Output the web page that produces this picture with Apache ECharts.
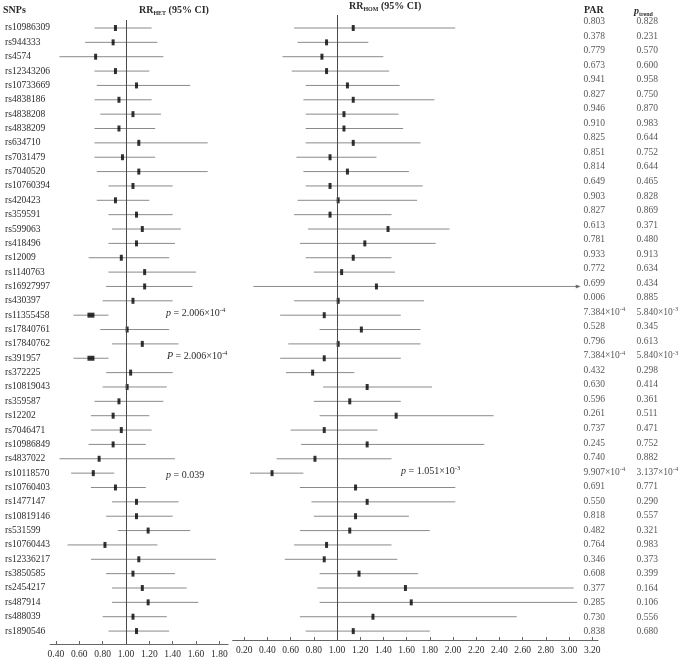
<!DOCTYPE html>
<html>
<head>
<meta charset="utf-8">
<script src="https://cdn.jsdelivr.net/npm/echarts@6/dist/echarts.min.js"></script>
<style>html,body{margin:0;padding:0;background:#fff}#c{width:683px;height:660px}</style>
</head>
<body>
<div id="c"></div>
<script>
const snps = ['rs10986309','rs944333','rs4574','rs12343206','rs10733669','rs4838186','rs4838208','rs4838209','rs634710','rs7031479','rs7040520','rs10760394','rs420423','rs359591','rs599063','rs418496','rs12009','rs1140763','rs16927997','rs430397','rs11355458','rs17840761','rs17840762','rs391957','rs372225','rs10819043','rs359587','rs12202','rs7046471','rs10986849','rs4837022','rs10118570','rs10760403','rs1477147','rs10819146','rs531599','rs10760443','rs12336217','rs3850585','rs2454217','rs487914','rs488039','rs1890546'];

const hetRR = [0.91,0.89,0.74,0.91,1.09,0.94,1.06,0.94,1.11,0.97,1.11,1.06,0.91,1.09,1.14,1.09,0.96,1.16,1.16,1.06,0.70,1.01,1.14,0.70,1.04,1.01,0.94,0.89,0.96,0.89,0.77,0.72,0.91,1.09,1.09,1.19,0.82,1.11,1.06,1.14,1.19,1.06,1.09];
const hetLo = [0.73,0.65,0.43,0.73,0.75,0.73,0.78,0.73,0.73,0.73,0.75,0.85,0.75,0.85,0.88,0.85,0.68,0.85,0.83,0.80,0.55,0.78,0.88,0.55,0.83,0.80,0.73,0.70,0.70,0.68,0.43,0.53,0.70,0.88,0.83,0.93,0.50,0.70,0.83,0.88,0.88,0.80,0.85];
const hetHi = [1.22,1.27,1.32,1.20,1.55,1.22,1.30,1.25,1.70,1.25,1.70,1.40,1.20,1.40,1.47,1.42,1.37,1.60,1.57,1.40,0.85,1.37,1.45,0.85,1.40,1.35,1.32,1.20,1.22,1.17,1.42,0.90,1.17,1.45,1.40,1.55,1.27,1.77,1.42,1.52,1.62,1.35,1.37];

const homRR = [1.14,0.91,0.87,0.91,1.09,1.14,1.06,1.06,1.14,0.94,1.09,0.94,1.01,0.94,1.44,1.24,1.14,1.04,1.34,1.01,0.89,1.21,1.01,0.89,0.79,1.26,1.11,1.51,0.89,1.26,0.81,0.44,1.16,1.26,1.16,1.11,0.91,0.89,1.19,1.59,1.64,1.31,1.14];
const homLo = [0.63,0.66,0.53,0.61,0.73,0.71,0.73,0.73,0.73,0.65,0.71,0.73,0.66,0.63,0.75,0.68,0.73,0.80,0.28,0.63,0.51,0.85,0.58,0.51,0.56,0.88,0.80,0.85,0.60,0.69,0.48,0.25,0.68,0.78,0.80,0.68,0.63,0.55,0.85,0.83,0.85,0.68,0.73];
const homHi = [2.02,1.27,1.40,1.45,1.54,1.84,1.53,1.57,1.72,1.34,1.62,1.74,1.69,1.47,1.97,1.85,1.47,1.50,3.08,1.75,1.55,1.72,1.72,1.55,1.15,1.82,1.55,2.35,1.35,2.27,1.47,0.71,2.02,2.02,1.62,1.80,1.47,1.52,1.70,3.04,3.07,2.55,1.80];

const par = ['0.803','0.378','0.779','0.673','0.941','0.827','0.946','0.910','0.825','0.851','0.814','0.649','0.903','0.827','0.613','0.781','0.933','0.772','0.699','0.006','7.384×10^-4','0.528','0.796','7.384×10^-4','0.432','0.630','0.596','0.261','0.737','0.245','0.740','9.907×10^-4','0.691','0.550','0.818','0.482','0.764','0.346','0.608','0.377','0.285','0.730','0.838'];
const ptrend = ['0.828','0.231','0.570','0.600','0.958','0.750','0.870','0.983','0.644','0.752','0.644','0.465','0.828','0.869','0.371','0.480','0.913','0.634','0.434','0.885','5.840×10^-3','0.345','0.613','5.840×10^-3','0.298','0.414','0.361','0.511','0.471','0.752','0.882','3.137×10^-4','0.771','0.290','0.557','0.321','0.983','0.373','0.399','0.164','0.106','0.556','0.680'];

const hetTicks = [0.40,0.60,0.80,1.00,1.20,1.40,1.60,1.80];
const homTicks = [0.20,0.40,0.60,0.80,1.00,1.20,1.40,1.60,1.80,2.00,2.20,2.40,2.60,2.80,3.00,3.20];

const hetBigRows = [20, 23];
const homArrowRows = [18];

const FONT = '"Liberation Serif", "Times New Roman", serif';
const TXT = '#2a2a2a';
const rows = snps.map((s, i) => i);

function sci(s) {
  const m = s.match(/^(.*)\^(.*)$/);
  return m ? '{t|' + m[1] + '}{sup|' + m[2] + '}' : '{t|' + s + '}';
}
const richTxt = {
  t: {fontSize: 9.5, fontFamily: FONT, color: TXT, lineHeight: 12},
  sup: {fontSize: 6.5, fontFamily: FONT, color: TXT, lineHeight: 6, verticalAlign: 'top'}
};

function ciRender(params, api) {
  const a = api.coord([api.value(0), api.value(2)]);
  const b = api.coord([api.value(1), api.value(2)]);
  return {type: 'line', shape: {x1: a[0], y1: a[1], x2: b[0], y2: b[1]},
          style: {stroke: '#8a8a8a', lineWidth: 1}};
}

function xAxisCfg(grid, min, max, ticks) {
  return {
    gridIndex: grid, type: 'value', min: min, max: max, position: 'bottom',
    splitLine: {show: false},
    axisLine: {show: true, onZero: false, lineStyle: {color: '#666', width: 1}},
    axisTick: {show: true, customValues: ticks, length: 3, inside: true, lineStyle: {color: '#666'}},
    axisLabel: {show: true, customValues: ticks, formatter: v => v.toFixed(2),
                fontFamily: FONT, fontSize: 9.5, color: TXT, margin: 5}
  };
}

const refLine = {
  silent: true, symbol: 'none', label: {show: false},
  lineStyle: {color: '#4a4a4a', width: 1, type: 'solid'},
  data: [{xAxis: 1}]
};

const option = {
  animation: false,
  backgroundColor: '#fff',
  grid: [
    {left: 50.1, top: 20, width: 178, height: 624, outerBoundsMode: 'none', containLabel: false},
    {left: 232.6, top: 15, width: 365.4, height: 625, outerBoundsMode: 'none', containLabel: false},
    {left: 583, top: 7.17, width: 53, height: 639.3, outerBoundsMode: 'none', containLabel: false}
  ],
  xAxis: [
    xAxisCfg(0, 0.35, 1.875, hetTicks),
    xAxisCfg(1, 0.10, 3.25, homTicks),
    {gridIndex: 2, type: 'value', min: 0, max: 1, show: false}
  ],
  yAxis: [
    {gridIndex: 0, type: 'value', inverse: true, min: -0.557, max: 42.9,
     splitLine: {show: false}, axisLine: {show: false}, axisTick: {show: false},
     axisLabel: {show: true, customValues: rows, formatter: v => snps[v], align: 'left',
                 margin: 45, fontFamily: FONT, fontSize: 9.5, color: TXT}},
    {gridIndex: 1, type: 'value', inverse: true, min: -0.905, max: 42.62, show: false},
    {gridIndex: 2, type: 'value', inverse: true, min: -1, max: 43, show: false}
  ],
  series: [
    {type: 'custom', xAxisIndex: 0, yAxisIndex: 0, silent: true, z: 1,
     data: hetLo.map((lo, i) => [lo, hetHi[i], i]), encode: {x: [0, 1], y: 2},
     renderItem: ciRender},
    {type: 'scatter', xAxisIndex: 0, yAxisIndex: 0, silent: true, z: 3,
     symbol: 'rect',
     symbolSize: (v, p) => hetBigRows.includes(p.dataIndex) ? [7, 5] : [3, 6],
     itemStyle: {color: '#000'},
     data: hetRR.map((v, i) => [v, i]),
     markLine: refLine},
    {type: 'custom', xAxisIndex: 1, yAxisIndex: 1, silent: true, z: 1,
     data: homLo.map((lo, i) => [lo, homHi[i], i]), encode: {x: [0, 1], y: 2},
     renderItem: ciRender},
    {type: 'scatter', xAxisIndex: 1, yAxisIndex: 1, silent: true, z: 3,
     symbol: 'rect', symbolSize: [3, 6], itemStyle: {color: '#000'},
     data: homRR.map((v, i) => [v, i]),
     markLine: refLine},
    {type: 'scatter', xAxisIndex: 1, yAxisIndex: 1, silent: true, z: 3,
     symbol: 'triangle', symbolSize: [4, 5], symbolRotate: -90, itemStyle: {color: '#555'},
     data: homArrowRows.map(i => [homHi[i], i])},
    {type: 'scatter', xAxisIndex: 2, yAxisIndex: 2, silent: true,
     symbolSize: 1, itemStyle: {color: 'rgba(0,0,0,0)'},
     data: par.map((s, i) => [0, i]),
     label: {show: true, position: 'right', distance: 0, formatter: p => sci(par[p.dataIndex]), rich: richTxt}},
    {type: 'scatter', xAxisIndex: 2, yAxisIndex: 2, silent: true,
     symbolSize: 1, itemStyle: {color: 'rgba(0,0,0,0)'},
     data: ptrend.map((s, i) => [1, i]),
     label: {show: true, position: 'right', distance: 0, formatter: p => sci(ptrend[p.dataIndex]), rich: richTxt}}
  ],
  graphic: [
    {type: 'text', x: 3, y: 10.5, style: {text: 'SNPs', font: 'bold 10px ' + FONT, fill: TXT, verticalAlign: 'middle'}},
    {type: 'text', x: 139, y: 10, style: {
      text: '{b|RR}{s|HET}{b| (95% CI)}', verticalAlign: 'middle',
      rich: {b: {fontSize: 10, fontWeight: 'bold', fontFamily: FONT, fill: TXT, lineHeight: 12},
             s: {fontSize: 6, fontWeight: 'bold', fontFamily: FONT, fill: TXT, lineHeight: 6, verticalAlign: 'bottom'}}}},
    {type: 'text', x: 349, y: 6, style: {
      text: '{b|RR}{s|HOM}{b| (95% CI)}', verticalAlign: 'middle',
      rich: {b: {fontSize: 10, fontWeight: 'bold', fontFamily: FONT, fill: TXT, lineHeight: 12},
             s: {fontSize: 6, fontWeight: 'bold', fontFamily: FONT, fill: TXT, lineHeight: 6, verticalAlign: 'bottom'}}}},
    {type: 'text', x: 584, y: 10, style: {text: 'PAR', font: 'bold 10px ' + FONT, fill: TXT, verticalAlign: 'middle'}},
    {type: 'text', x: 634, y: 11, style: {
      text: '{i|p}{s|trend}', verticalAlign: 'middle',
      rich: {i: {fontSize: 10, fontStyle: 'italic', fontWeight: 'bold', fontFamily: FONT, fill: TXT, lineHeight: 12},
             s: {fontSize: 6, fontFamily: FONT, fontWeight: 'bold', fill: TXT, lineHeight: 6, verticalAlign: 'bottom'}}}},
    {type: 'text', x: 166, y: 313, style: {
      text: '{i|p}{t| = 2.006×10}{u|-4}', verticalAlign: 'middle',
      rich: {i: {fontSize: 10, fontStyle: 'italic', fontFamily: FONT, fill: TXT, lineHeight: 12},
             t: {fontSize: 10, fontFamily: FONT, fill: TXT, lineHeight: 12},
             u: {fontSize: 6.5, fontFamily: FONT, fill: TXT, lineHeight: 6, verticalAlign: 'top'}}}},
    {type: 'text', x: 167, y: 356, style: {
      text: '{i|P}{t| = 2.006×10}{u|-4}', verticalAlign: 'middle',
      rich: {i: {fontSize: 10, fontStyle: 'italic', fontFamily: FONT, fill: TXT, lineHeight: 12},
             t: {fontSize: 10, fontFamily: FONT, fill: TXT, lineHeight: 12},
             u: {fontSize: 6.5, fontFamily: FONT, fill: TXT, lineHeight: 6, verticalAlign: 'top'}}}},
    {type: 'text', x: 166, y: 475, style: {
      text: '{i|p}{t| = 0.039}', verticalAlign: 'middle',
      rich: {i: {fontSize: 10, fontStyle: 'italic', fontFamily: FONT, fill: TXT, lineHeight: 12},
             t: {fontSize: 10, fontFamily: FONT, fill: TXT, lineHeight: 12}}}},
    {type: 'text', x: 401, y: 471, style: {
      text: '{i|p}{t| = 1.051×10}{u|-3}', verticalAlign: 'middle',
      rich: {i: {fontSize: 10, fontStyle: 'italic', fontFamily: FONT, fill: TXT, lineHeight: 12},
             t: {fontSize: 10, fontFamily: FONT, fill: TXT, lineHeight: 12},
             u: {fontSize: 6.5, fontFamily: FONT, fill: TXT, lineHeight: 6, verticalAlign: 'top'}}}}
  ]
};

const chart = echarts.init(document.getElementById('c'), null, {renderer: 'canvas'});
chart.setOption(option);
</script>
</body>
</html>
